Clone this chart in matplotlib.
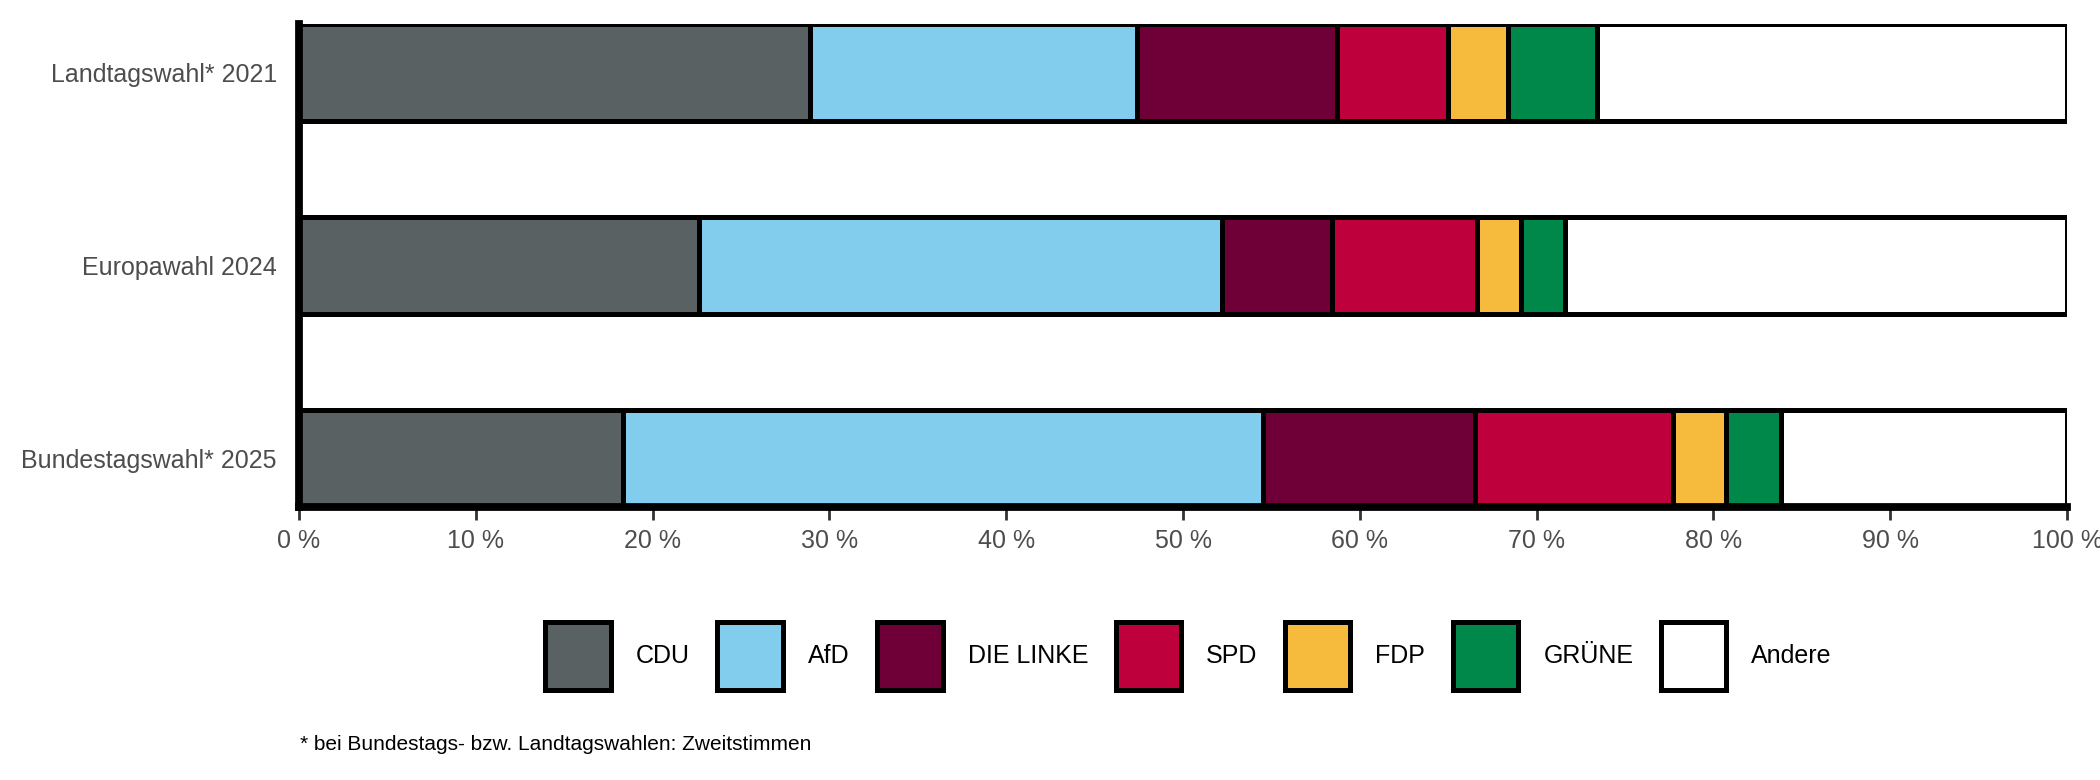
#!/usr/bin/env python
import numpy as np
import matplotlib
matplotlib.use('Agg')
import matplotlib.pyplot as plt

"""
Stacked vote shares (percent) for three elections
"""

elections = ['Landtagswahl* 2021', 'Europawahl 2024', 'Bundestagswahl* 2025']
parties = ['CDU', 'AfD', 'DIE LINKE', 'SPD', 'FDP', 'GRÜNE', 'Andere']

# one list per party, in the order of `elections`
cdu = [28.9, 22.6, 18.3]
afd = [18.5, 29.6, 36.2]
linke = [11.3, 6.2, 12.0]
spd = [6.3, 8.2, 11.2]
fdp = [3.4, 2.5, 3.0]
gruene = [5.0, 2.5, 3.1]
andere = [26.6, 28.4, 16.2]

party_colors = ['#596163', '#82cced', '#6e0037', '#be003c', '#f6bb3d', '#00874a', '#ffffff']
xticks = [0, 10, 20, 30, 40, 50, 60, 70, 80, 90, 100]
footnote = '* bei Bundestags- bzw. Landtagswahlen: Zweitstimmen'


def main():
  plt.rcParams['font.family'] = ['Liberation Sans', 'DejaVu Sans']

  shares = np.array([cdu, afd, linke, spd, fdp, gruene, andere])
  ypos = np.arange(len(elections))

  fig = plt.figure(figsize=(10.5, 3.9), dpi=200)
  ax = fig.add_axes([0.1424, 0.35, 0.8419, 0.6192])

  left = np.zeros(len(elections))
  handles = []
  for name, vals, col in zip(parties, shares, party_colors):
    bars = ax.barh(ypos, vals, left=left, height=0.5, color=col,
                   edgecolor='black', linewidth=1.8, label=name)
    handles.append(bars)
    left += vals

  ax.set_xlim(0, 100)
  ax.set_ylim(len(elections) - 0.75, -0.25)
  ax.set_yticks(ypos)
  ax.set_yticklabels(elections)
  ax.set_xticks(xticks)
  ax.set_xticklabels(['%d %%' % t for t in xticks])

  for side in ['top', 'right']:
    ax.spines[side].set_visible(False)
  for side in ['left', 'bottom']:
    ax.spines[side].set_linewidth(2.8)
    ax.spines[side].set_color('black')
    ax.spines[side].set_zorder(5)

  ax.tick_params(axis='y', length=0, pad=8, labelsize=9, labelcolor='#4d4d4d')
  ax.tick_params(axis='x', length=4.5, width=1.0, color='#333333', pad=3.5,
                 labelsize=9, labelcolor='#4d4d4d')

  # handleheight is larger than the key's drawn height (legend takes off a descent)
  fig.legend(handles, parties, loc='center', bbox_to_anchor=(0.566, 0.159),
             ncol=7, frameon=False, fontsize=9, handlelength=2.62,
             handleheight=3.84, handletextpad=1.0, columnspacing=1.1)

  fig.text(300 / 2100, 1 - 745 / 780, footnote, fontsize=7.5, va='center')

  fig.savefig('out.png', dpi=200)
  plt.close(fig)


if __name__ == '__main__':
  main()
